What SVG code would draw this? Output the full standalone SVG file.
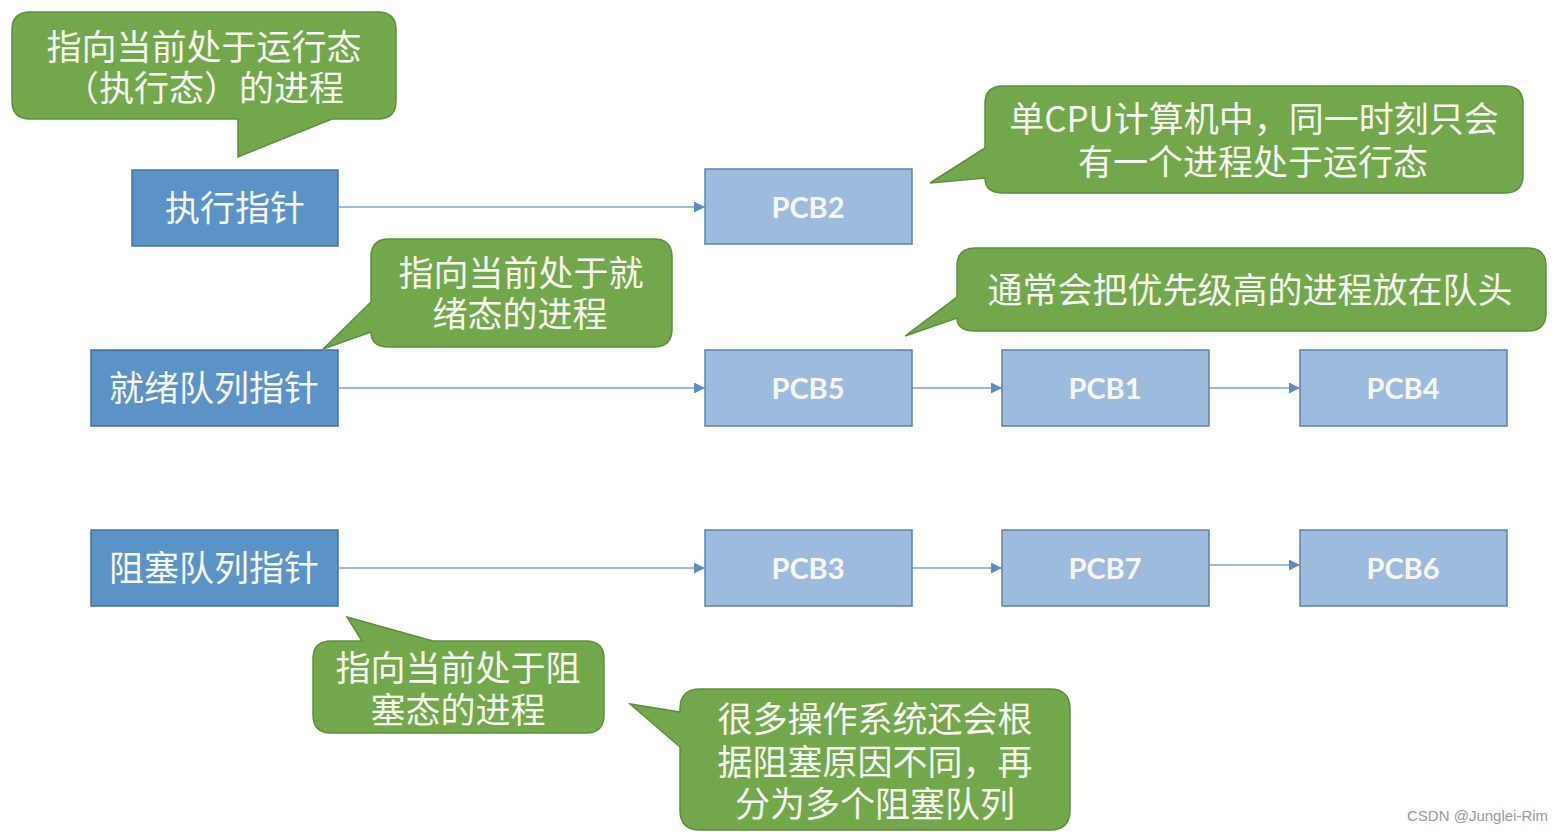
<svg xmlns="http://www.w3.org/2000/svg" width="1568" height="834" viewBox="0 0 1568 834">
<defs>
<style>
.ptr{fill:#5b93c7;stroke:#44729f;stroke-width:1.5}
.pcb{fill:#9dbcdd;stroke:#5f82aa;stroke-width:1.5}
.call{fill:#72a84b;stroke:#5d8f3d;stroke-width:1.5}
.cjk{font-family:"Noto Sans CJK SC","Noto Sans",sans-serif;font-size:35px;fill:#f6f6f0;text-anchor:middle}
.lat{font-family:Lato,"Open Sans",sans-serif;font-size:29px;font-weight:bold;fill:#f6f6f0;text-anchor:middle}
.edge{stroke:#7ba3cc;stroke-width:1.5;fill:none;marker-end:url(#ah)}
.wm{font-family:"Liberation Sans",Arial,sans-serif;font-size:15px;fill:#9a9a9a}
</style>
<marker id="ah" viewBox="0 0 10 10" refX="10" refY="5" markerWidth="11" markerHeight="11" markerUnits="userSpaceOnUse" orient="auto">
<path d="M0,0 L10,5 L0,10 Z" fill="#5b8fc4"/>
</marker>
</defs>
<rect width="1568" height="834" fill="#ffffff"/>

<g id="connectors">
<line class="edge" x1="339" y1="207" x2="705" y2="207"/>
<line class="edge" x1="339" y1="388" x2="705" y2="388"/>
<line class="edge" x1="912" y1="388" x2="1002" y2="388"/>
<line class="edge" x1="1209" y1="388" x2="1300" y2="388"/>
<line class="edge" x1="339" y1="568" x2="705" y2="568"/>
<line class="edge" x1="912" y1="568" x2="1002" y2="568"/>
<line class="edge" x1="1209" y1="565" x2="1300" y2="565"/>
</g>

<g id="exec-ptr"><rect class="ptr" x="132" y="170" width="206" height="76"/><text class="cjk" x="235" y="221">执行指针</text></g>
<g id="ready-ptr"><rect class="ptr" x="91" y="350" width="247" height="76"/><text class="cjk" x="214" y="401">就绪队列指针</text></g>
<g id="block-ptr"><rect class="ptr" x="91" y="530" width="247" height="76"/><text class="cjk" x="214" y="581">阻塞队列指针</text></g>

<g id="pcb2"><rect class="pcb" x="705" y="169" width="207" height="75"/><text class="lat" x="808" y="218">PCB2</text></g>
<g id="pcb5"><rect class="pcb" x="705" y="350" width="207" height="76"/><text class="lat" x="808" y="399">PCB5</text></g>
<g id="pcb1"><rect class="pcb" x="1002" y="350" width="207" height="76"/><text class="lat" x="1105" y="399">PCB1</text></g>
<g id="pcb4"><rect class="pcb" x="1300" y="350" width="207" height="76"/><text class="lat" x="1403" y="399">PCB4</text></g>
<g id="pcb3"><rect class="pcb" x="705" y="530" width="207" height="76"/><text class="lat" x="808" y="579">PCB3</text></g>
<g id="pcb7"><rect class="pcb" x="1002" y="530" width="207" height="76"/><text class="lat" x="1105" y="579">PCB7</text></g>
<g id="pcb6"><rect class="pcb" x="1300" y="530" width="207" height="76"/><text class="lat" x="1403" y="579">PCB6</text></g>

<g id="callout-running">
<path class="call" d="M30,12 H378 Q396,12 396,30 V101 Q396,119 378,119 H332 L238,157 V119 H30 Q12,119 12,101 V30 Q12,12 30,12 Z"/>
<text class="cjk" x="204" y="60">指向当前处于运行态<tspan x="204" dy="41">（执行态）的进程</tspan></text>
</g>
<g id="callout-cpu">
<path class="call" d="M1003,86 H1505 Q1523,86 1523,104 V175 Q1523,193 1505,193 H1003 Q985,193 985,178 L930,183 L985,148 V104 Q985,86 1003,86 Z"/>
<text class="cjk" x="1254" y="132">单CPU计算机中，同一时刻只会<tspan x="1253" dy="43">有一个进程处于运行态</tspan></text>
</g>
<g id="callout-ready">
<path class="call" d="M389,239 H654 Q672,239 672,257 V329 Q672,347 654,347 H389 Q371,347 371,332 L323,349 L371,302 V257 Q371,239 389,239 Z"/>
<text class="cjk" x="521" y="286">指向当前处于就<tspan x="520" dy="41">绪态的进程</tspan></text>
</g>
<g id="callout-priority">
<path class="call" d="M975,248 H1528 Q1546,248 1546,266 V313 Q1546,331 1528,331 H975 Q957,331 957,318 L905,336 L957,297 V266 Q957,248 975,248 Z"/>
<text class="cjk" x="1250" y="303">通常会把优先级高的进程放在队头</text>
</g>
<g id="callout-blocked">
<path class="call" d="M331,641 H362 L347,617 L433,641 H586 Q604,641 604,659 V715 Q604,733 586,733 H331 Q313,733 313,715 V659 Q313,641 331,641 Z"/>
<text class="cjk" x="458" y="681">指向当前处于阻<tspan x="458" dy="42">塞态的进程</tspan></text>
</g>
<g id="callout-multi">
<path class="call" d="M700,689 H1050 Q1070,689 1070,709 V810 Q1070,830 1050,830 H700 Q680,830 680,810 V747 L630,704 L680,712 V709 Q680,689 700,689 Z"/>
<text class="cjk" x="875" y="732">很多操作系统还会根<tspan x="875" dy="43">据阻塞原因不同，再</tspan><tspan x="875" dy="42">分为多个阻塞队列</tspan></text>
</g>

<text class="wm" x="1407" y="821">CSDN @Junglei-Rim</text>
</svg>
